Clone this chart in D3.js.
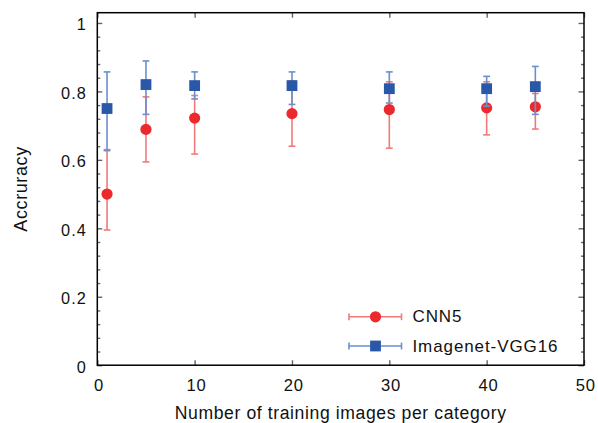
<!DOCTYPE html>
<html>
<head>
<meta charset="utf-8">
<script src="https://d3js.org/d3.v7.min.js"></script>
<style>
  body { margin: 0; background: #fff; }
  text { font-family: "Liberation Sans", Arial, sans-serif; fill: #111; }
</style>
</head>
<body>
<div id="chart"></div>
<script>
// training images per category
var sizes = [1, 5, 10, 20, 30, 40, 45];

// CNN5 accuracy (mean, lower, upper)
var cnnMean = [0.500, 0.689, 0.722, 0.735, 0.747, 0.752, 0.755];
var cnnLow  = [0.395, 0.594, 0.617, 0.640, 0.634, 0.673, 0.690];
var cnnHigh = [0.630, 0.784, 0.788, 0.830, 0.828, 0.828, 0.794];

// Imagenet-VGG16 accuracy (mean, lower, upper)
var vggMean = [0.750, 0.820, 0.817, 0.817, 0.808, 0.808, 0.814];
var vggLow  = [0.627, 0.733, 0.778, 0.762, 0.766, 0.757, 0.733];
var vggHigh = [0.857, 0.889, 0.857, 0.857, 0.857, 0.844, 0.873];

var xTicks = [0, 10, 20, 30, 40, 50];
var yTicks = [0, 0.2, 0.4, 0.6, 0.8, 1];
var seriesNames = ["CNN5", "Imagenet-VGG16"];

var W = 598, H = 423;
var margin = {top: 12.7, left: 97.3, right: 14, bottom: 57.8};
var width = W - margin.left - margin.right,
    height = H - margin.top - margin.bottom;

var svg = d3.select("#chart").append("svg")
    .attr("width", W).attr("height", H);
var g = svg.append("g")
    .attr("transform", "translate(" + margin.left + "," + margin.top + ")");

var x = d3.scaleLinear().domain([0, 50]).range([0, width]);
var y = d3.scaleLinear().domain([0, 1.03]).range([height, 0]);

var minorY = d3.range(0, 26).map(function(i) { return i * 0.04; })
  .filter(function(v) { return yTicks.every(function(t) { return Math.abs(t - v) > 1e-6; }); });

var tickColor = "#666";

// ticks (inward on all four sides)
function addTicks(axis, tickVals, size) {
  axis.tickValues(tickVals).tickSize(size).tickFormat("").tickSizeOuter(0);
  return axis;
}
function styleTicks(sel) {
  sel.select(".domain").remove();
  sel.selectAll("line").attr("stroke", tickColor).attr("stroke-width", 1.4);
}
g.append("g").call(addTicks(d3.axisRight(y), yTicks, 5)).call(styleTicks);
g.append("g").call(addTicks(d3.axisRight(y), minorY, 3)).call(styleTicks);
g.append("g").attr("transform", "translate(" + width + ",0)")
  .call(addTicks(d3.axisLeft(y), yTicks, 5.5)).call(styleTicks);
g.append("g").attr("transform", "translate(" + width + ",0)")
  .call(addTicks(d3.axisLeft(y), minorY, 3)).call(styleTicks);
g.append("g").attr("transform", "translate(0," + height + ")")
  .call(addTicks(d3.axisTop(x), xTicks, 5)).call(styleTicks);
g.append("g")
  .call(addTicks(d3.axisBottom(x), xTicks, 5)).call(styleTicks);

// frame
g.append("rect")
  .attr("width", width).attr("height", height)
  .attr("fill", "none").attr("stroke", "#000").attr("stroke-width", 1.5);

// tick labels
g.selectAll(".ylab").data(yTicks).enter().append("text")
  .attr("x", -10.2)
  .attr("y", function(d) { return y(d) + 7.4; })
  .attr("text-anchor", "end")
  .style("font-size", "16.3px").style("letter-spacing", "1.2px")
  .text(function(d) { return d3.format("")(d); });

g.selectAll(".xlab").data(xTicks).enter().append("text")
  .attr("x", function(d) { return x(d) + 1.8; })
  .attr("y", height + 26.2)
  .attr("text-anchor", "middle")
  .style("font-size", "16.6px").style("letter-spacing", "0.8px")
  .text(function(d) { return d; });

// axis titles
svg.append("text")
  .attr("x", margin.left + width / 2)
  .attr("y", 419)
  .attr("text-anchor", "middle")
  .style("font-size", "17.6px").style("letter-spacing", "0.6px")
  .text("Number of training images per category");

svg.append("text")
  .attr("transform", "translate(26.5," + (margin.top + height / 2) + ") rotate(-90)")
  .attr("text-anchor", "middle")
  .style("font-size", "18px").style("letter-spacing", "0.6px")
  .text("Accruracy");

// error bars + markers
var cnnBar = "#f07a7a", cnnFill = "#ec2a2e";
var vggBar = "#6a8fce", vggFill = "#2a58a8";
var cap = 3.4;

function errorBars(mean, low, high, color) {
  var rows = sizes.map(function(s, i) { return {x: s, m: mean[i], lo: low[i], hi: high[i]}; });
  var eb = g.append("g").attr("stroke", color).attr("stroke-width", 1.6);
  eb.selectAll(".v").data(rows).enter().append("line")
    .attr("x1", function(d) { return x(d.x); }).attr("x2", function(d) { return x(d.x); })
    .attr("y1", function(d) { return y(d.lo); }).attr("y2", function(d) { return y(d.hi); });
  eb.selectAll(".lo").data(rows).enter().append("line")
    .attr("x1", function(d) { return x(d.x) - cap; }).attr("x2", function(d) { return x(d.x) + cap; })
    .attr("y1", function(d) { return y(d.lo); }).attr("y2", function(d) { return y(d.lo); });
  eb.selectAll(".hi").data(rows).enter().append("line")
    .attr("x1", function(d) { return x(d.x) - cap; }).attr("x2", function(d) { return x(d.x) + cap; })
    .attr("y1", function(d) { return y(d.hi); }).attr("y2", function(d) { return y(d.hi); });
  return rows;
}

var cnnRows = errorBars(cnnMean, cnnLow, cnnHigh, cnnBar);
g.selectAll(".cnn").data(cnnRows).enter().append("circle")
  .attr("cx", function(d) { return x(d.x); })
  .attr("cy", function(d) { return y(d.m); })
  .attr("r", 5.6).attr("fill", cnnFill);

var vggRows = errorBars(vggMean, vggLow, vggHigh, vggBar);
g.selectAll(".vgg").data(vggRows).enter().append("rect")
  .attr("x", function(d) { return x(d.x) - 5.4; })
  .attr("y", function(d) { return y(d.m) - 5.4; })
  .attr("width", 10.8).attr("height", 10.8)
  .attr("fill", vggFill);

// legend
var legend = svg.append("g");
var legRows = [
  {name: seriesNames[0], y: 316.8, bar: cnnBar, fill: cnnFill, shape: "circle"},
  {name: seriesNames[1], y: 346, bar: vggBar, fill: vggFill, shape: "square"}
];
legRows.forEach(function(r) {
  var lg = legend.append("g").attr("transform", "translate(0," + r.y + ")");
  lg.append("line").attr("x1", 349).attr("x2", 401.5).attr("stroke", r.bar).attr("stroke-width", 1.6);
  lg.append("line").attr("x1", 349).attr("x2", 349).attr("y1", -cap).attr("y2", cap)
    .attr("stroke", r.bar).attr("stroke-width", 1.6);
  lg.append("line").attr("x1", 401.5).attr("x2", 401.5).attr("y1", -cap).attr("y2", cap)
    .attr("stroke", r.bar).attr("stroke-width", 1.6);
  if (r.shape === "circle") {
    lg.append("circle").attr("cx", 375.5).attr("r", 5.6).attr("fill", r.fill);
  } else {
    lg.append("rect").attr("x", 370.1).attr("y", -5.4).attr("width", 10.8).attr("height", 10.8).attr("fill", r.fill);
  }
  lg.append("text").attr("x", 412.5).attr("y", 5.6)
    .style("font-size", "17px").style("letter-spacing", "0.9px")
    .text(r.name);
});
</script>
</body>
</html>
